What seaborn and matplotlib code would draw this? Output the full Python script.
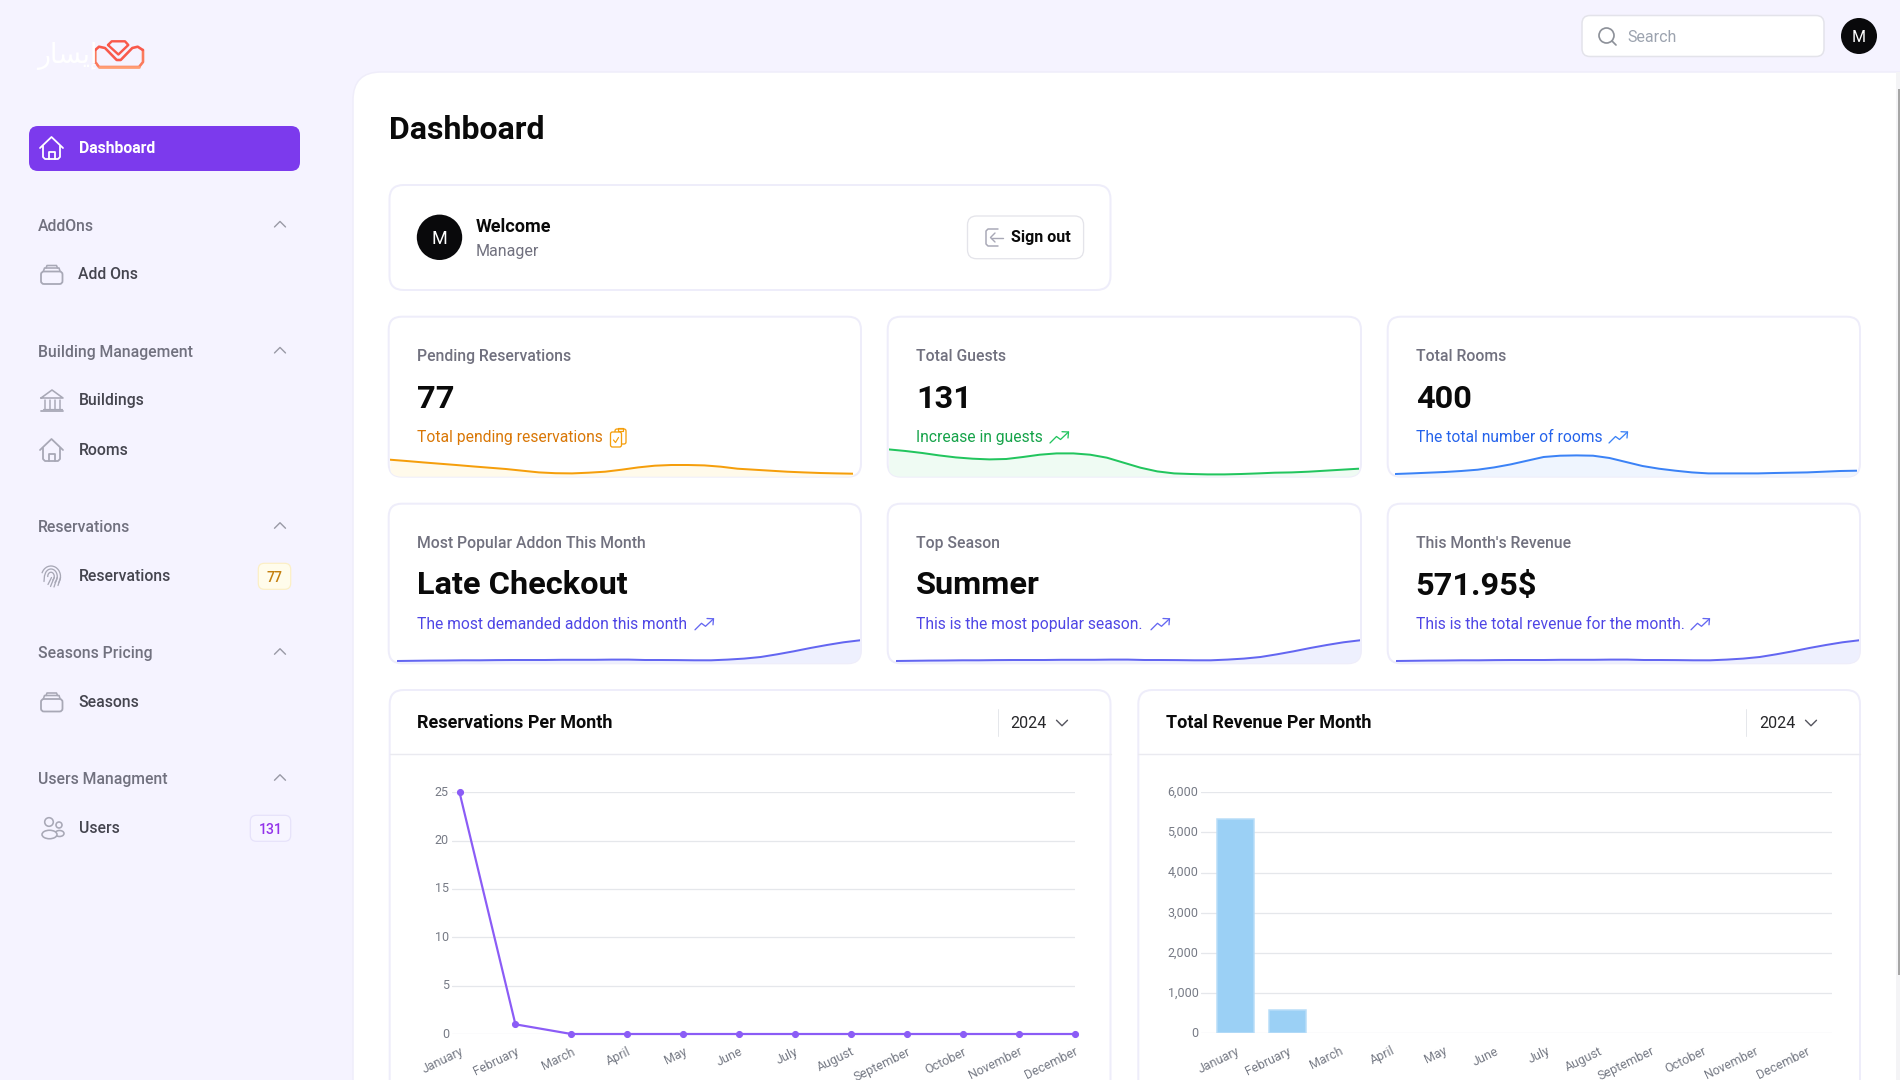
import numpy as np
import pandas as pd
import seaborn as sns
import matplotlib
matplotlib.use("Agg")
import matplotlib.pyplot as plt
from matplotlib.patches import FancyBboxPatch, Circle, Rectangle, Arc, Ellipse
from matplotlib.transforms import ScaledTranslation

# ---------- data ----------
months = ["January", "February", "March", "April", "May", "June", "July",
          "August", "September", "October", "November", "December"]
reservations = [25, 1, 0, 0, 0, 0, 0, 0, 0, 0, 0, 0]
revenue = [5330, 572, 0, 0, 0, 0, 0, 0, 0, 0, 0, 0]
res_ticks = [0, 5, 10, 15, 20, 25]
rev_ticks = [0, 1000, 2000, 3000, 4000, 5000, 6000]

spark_pending = [16, 14.7, 13.3, 12, 10.7, 9.3, 8, 6.7, 5, 3.3, 2.5, 2.3, 3, 4, 6, 8.3, 10, 10.7, 10.7,
                 10.3, 9, 7, 6, 5, 4, 3.3, 2.7, 2.3, 2]
spark_guests = [26.3, 24.7, 22.7, 20.3, 18.3, 17, 16.3, 16.7, 18.7, 21, 22.3, 22.3, 21, 18, 13, 8, 4.3,
                2.3, 1.7, 1.3, 1.3, 1.7, 2.3, 3, 3.3, 4, 5, 6, 7]
spark_rooms = [1.7, 2.3, 3, 3.7, 4.7, 6, 8.3, 11.3, 15, 18.7, 20, 20.3, 20, 17.7, 13.7, 9.7, 7, 5, 3.3,
               2.3, 2.3, 2.3, 2.3, 2.7, 3, 3.3, 4, 4.7, 5]
spark_indigo = [1.3, 1.5, 1.7, 1.8, 2, 2, 2.2, 2.3, 2.3, 2.3, 2.5, 2.5, 2.5, 2.7, 2.7, 2.3, 2.3, 2.2, 2,
                2, 2.7, 3.7, 5.3, 8, 11, 14.3, 17.3, 20, 22]

card_labels = ["Pending Reservations", "Total Guests", "Total Rooms",
               "Most Popular Addon This Month", "Top Season", "This Month's Revenue"]
card_values = ["77", "131", "400", "Late Checkout", "Summer", "571.95$"]
card_notes = ["Total pending reservations", "Increase in guests", "The total number of rooms",
              "The most demanded addon this month", "This is the most popular season.",
              "This is the total revenue for the month."]
nav_headers = ["AddOns", "Building Management", "Reservations", "Seasons Pricing", "Users Managment"]
nav_items = ["Add Ons", "Buildings", "Rooms", "Reservations", "Seasons", "Users"]

# ---------- theme ----------
sns.set_theme(style="white")
plt.rcParams["font.family"] = ["Roboto", "DejaVu Sans"]
W, H = 1900, 1080
PT = 0.72
BG = "#F5F3FF"
BORDER = "#EEEDFA"
GRID = "#E5E7EB"
TICK = "#767A85"

fig = plt.figure(figsize=(W / 100, H / 100), dpi=100, facecolor=BG)
bg = fig.add_axes([0, 0, 1, 1], zorder=0)
bg.set_xlim(0, W)
bg.set_ylim(H, 0)
bg.axis("off")


def rbox(x0, y0, x1, y1, r, fc="white", ec="none", lw=0, z=1, ax=bg):
    p = FancyBboxPatch((x0 + r, y0 + r), x1 - x0 - 2 * r, y1 - y0 - 2 * r,
                       boxstyle=f"round,pad={r},rounding_size={r}", fc=fc, ec=ec,
                       lw=lw * PT, zorder=z)
    ax.add_patch(p)
    return p


def txt(x, y, s, px=16, color="#111111", weight="normal", ha="left", z=5, **kw):
    return bg.text(x, y, s, fontsize=px * PT, color=color, fontweight=weight, ha=ha,
                   va="center_baseline", zorder=z, **kw)


def poly(pts, color, lw=1.6, z=5, closed=False):
    a = np.array(pts, dtype=float)
    if closed:
        a = np.vstack([a, a[0]])
    bg.plot(a[:, 0], a[:, 1], color=color, lw=lw * PT, zorder=z,
            solid_capstyle="round", solid_joinstyle="round")


ICON = "#A8A8B6"


def house(x, y, c):
    poly([(x, y + 11), (x + 11.5, y), (x + 23, y + 11)], c, 1.8)
    poly([(x + 3, y + 9), (x + 3, y + 20), (x + 5, y + 22), (x + 18, y + 22), (x + 20, y + 20), (x + 20, y + 9)], c, 1.8)
    poly([(x + 8.5, y + 22), (x + 8.5, y + 15), (x + 14.5, y + 15), (x + 14.5, y + 22)], c, 1.8)


def box(x, y):
    rbox(x, y + 6.5, x + 21.5, y + 19, 3, fc="none", ec=ICON, lw=1.8, z=5)
    poly([(x + 2.5, y + 6), (x + 3.5, y + 3), (x + 18, y + 3), (x + 19, y + 6)], ICON, 1.6)
    poly([(x + 5, y + 3), (x + 6, y + 0.5), (x + 15.5, y + 0.5), (x + 16.5, y + 3)], ICON, 1.6)


def bank(x, y):
    poly([(x, y + 8), (x + 11, y), (x + 22, y + 8)], ICON, 1.6, closed=True)
    for dx in (3.5, 8.5, 13.5, 18.5):
        poly([(x + dx, y + 10), (x + dx, y + 19)], ICON, 1.5)
    poly([(x, y + 21), (x + 22, y + 21)], ICON, 1.8)
    poly([(x + 1.5, y + 19), (x + 20.5, y + 19)], ICON, 1.2)


def fingerprint(cx, cy):
    for w, h, a0, a1 in ((19, 21, 200, 40), (12.5, 15, 190, 60), (6.5, 8.5, 170, 70)):
        bg.add_patch(Arc((cx, cy), w, h, theta1=a0, theta2=a1 + 360, color=ICON, lw=1.3 * PT, zorder=5))
    poly([(cx + 9.5, cy + 1), (cx + 7, cy + 9)], ICON, 1.3)
    poly([(cx + 6.2, cy + 1), (cx + 3, cy + 10.5)], ICON, 1.3)
    poly([(cx + 3.2, cy + 1), (cx - 0.5, cy + 10)], ICON, 1.3)
    poly([(cx + 0.5, cy + 1), (cx - 3, cy + 8)], ICON, 1.3)
    poly([(cx - 6.5, cy - 1), (cx - 7, cy + 5)], ICON, 1.3)


def users(x, y):
    bg.add_patch(Circle((x + 8, y + 5), 4.3, fc="none", ec=ICON, lw=1.6 * PT, zorder=5))
    bg.add_patch(Circle((x + 18, y + 8), 3, fc="none", ec=ICON, lw=1.6 * PT, zorder=5))
    bg.add_patch(Ellipse((x + 8.5, y + 17.5), 15, 8.5, fc=BG, ec=ICON, lw=1.6 * PT, zorder=5))
    bg.add_patch(Ellipse((x + 18.5, y + 16.5), 9, 6, fc="none", ec=ICON, lw=1.6 * PT, zorder=4))


def chevron(cx, cy, up=True, c="#9A9AA6", s=5.5):
    d = -s / 2 if up else s / 2
    poly([(cx - s, cy - d), (cx, cy + d), (cx + s, cy - d)], c, 1.4)


def trend(x, cy, c):
    y = cy - 6
    poly([(x, y + 12), (x + 6.5, y + 5.5), (x + 10.5, y + 8.5), (x + 18.5, y + 1)], c, 1.3)
    poly([(x + 12, y + 0.7), (x + 18.5, y + 1), (x + 18, y + 7)], c, 1.3)


# ---------- page ----------
rbox(353, 72, 1960, 1200, 28, fc="white", ec="#EFEDFA", lw=1.5, z=1)
bg.add_patch(Rectangle((1896, 72), 4, 1008, fc="#F4F4F6", ec="none", zorder=2))
bg.add_patch(Rectangle((1897.5, 89), 2.5, 886, fc="#A6A6A6", ec="none", zorder=3))

# top bar
rbox(1582, 15.5, 1824, 56.5, 8, fc="white", ec="#E3E3EA", lw=1.5, z=2)
bg.add_patch(Circle((1606.5, 35.5), 7.5, fc="none", ec="#8D9199", lw=1.7 * PT, zorder=5))
poly([(1612, 41), (1616, 45)], "#8D9199", 1.7)
txt(1627.5, 36, "Search", 16, "#9CA3AF")
bg.add_patch(Circle((1859, 36), 18, fc="#09090B", ec="none", zorder=3))
txt(1859, 36, "M", 16, "white", ha="center")

# logo
LOGO_T, LOGO_M, LOGO_B = "#F9594B", "#FB7A5C", "#FF9E73"
poly([(95.3, 50), (95.3, 62), (99, 67), (139, 67), (143, 62), (143, 50)], LOGO_M, 2.6)
poly([(99, 67), (139, 67)], LOGO_B, 2.6)
poly([(95.3, 50), (99, 46.7), (105, 48), (116.7, 60), (120.7, 60), (132.3, 48), (137.7, 46.7), (142.8, 50)], LOGO_T, 2.6)
poly([(108, 45), (111.7, 41.3), (125, 41.3), (128.3, 45), (118.4, 54.5)], LOGO_T, 2.4, closed=True)
bg.text(37, 56.5, "\uFEAD\uFE8E\uFEB4\uFEF3\uFE87", fontsize=27 * PT, color="white",
        family=["DejaVu Sans"], ha="left", va="center", zorder=5)

# ---------- sidebar ----------
rbox(29, 126, 300, 171, 9, fc="#7C3AED", z=2)
house(40, 137, "white")
txt(78.5, 146.7, "Dashboard", 15.8, "white", "bold")
for s, y in zip(nav_headers, [225, 351, 526.3, 652.3, 778.3]):
    txt(38.3, y, s, 15.75, "#71717F", "medium")
    chevron(280, y - 0.8)
for s, y in zip(nav_items, [273, 399.3, 449.3, 575.3, 701.3, 827.3]):
    txt(78.5, y, s, 15.75, "#45454F", "medium")
box(41, 265)
bank(41, 390)
house(40, 439, ICON)
fingerprint(51, 576.5)
box(41, 692.5)
users(41, 817)
rbox(258.3, 563.3, 290.7, 589.3, 6, fc="#FFFCEB", ec="#FCEFC4", lw=1.2, z=2)
txt(274.5, 576.5, "77", 14, "#C47F0E", "medium", ha="center")
rbox(250.3, 815.3, 290.7, 841.3, 6, fc="#F7F5FF", ec="#E6E2FA", lw=1.2, z=2)
txt(270.5, 828.5, "131", 14, "#9333EA", "medium", ha="center")

# ---------- main ----------
txt(389, 126.7, "Dashboard", 32, "#0A0A0A", "bold")
rbox(389.5, 185, 1110.5, 290, 14, fc="white", ec=BORDER, lw=2, z=2)
bg.add_patch(Circle((439.5, 237.3), 22.7, fc="#09090B", ec="none", zorder=3))
txt(439.5, 237.5, "M", 18, "white", ha="center")
txt(475.5, 225, "Welcome", 18, "#0A0A0A", "bold")
txt(475.5, 250, "Manager", 16, "#71717F")
rbox(967.5, 216, 1083.6, 258.7, 9, fc="white", ec="#E4E4EA", lw=1.3, z=3)
poly([(998, 229), (988, 229), (986, 231), (986, 244), (988, 246), (998, 246)], ICON, 1.5)
poly([(1003, 237.5), (991, 237.5)], ICON, 1.4)
poly([(995, 233), (990.5, 237.5), (995, 242)], ICON, 1.4)
txt(1011, 236, "Sign out", 16, "#0A0A0A", "bold")

card_x = [(388.7, 861), (887.7, 1361), (1387.7, 1860)]
card_y = [(316.7, 476.7), (503.7, 663.3)]
text_x = [417, 916.3, 1415.7]
row_text = [(354.8, 395.7, 435.8), (541.8, 582.5, 622.6)]
palette = [("#F59E0B", "#D97706", "#FFFAEB"), ("#22C55E", "#16A34A", "#EFFBF3"), ("#3B82F6", "#2563EB", "#EFF5FE"),
           ("#6366F1", "#4F46E5", "#EEF0FE"), ("#6366F1", "#4F46E5", "#EEF0FE"), ("#6366F1", "#4F46E5", "#EEF0FE")]
sparks = [spark_pending, spark_guests, spark_rooms, spark_indigo, spark_indigo, spark_indigo]
spark_inset = [(1.3, 7.7), (1, 2.3), (7.6, 3.3), (8, 1), (8, 1), (8, 1)]
icon_x = [None, 1050, 1609, 695, 1151, 1691]

for i in range(6):
    c, r = i % 3, i // 3
    x0, x1 = card_x[c]
    y0, y1 = card_y[r]
    rbox(x0, y0, x1, y1, 13, fc="white", ec=BORDER, lw=2, z=2)
    tx = text_x[c]
    ly, vy, ny = row_text[r]
    line_c, note_c, fill_c = palette[i]
    txt(tx, ly, card_labels[i], 15.8, "#71717F", "medium")
    txt(tx, vy, card_values[i], 32.5, "#0A0A0A", "bold")
    txt(tx, ny, card_notes[i], 15.65, note_c)
    if icon_x[i]:
        trend(icon_x[i], ny + 1.2, line_c)
    # sparkline
    l, rr = spark_inset[i]
    sx0, sx1 = x0 + l, x1 - rr
    sy1 = y1 - 1
    hh = 32
    ax = fig.add_axes([sx0 / W, 1 - sy1 / H, (sx1 - sx0) / W, hh / H], zorder=3)
    ax.patch.set_alpha(0)
    idx = np.arange(len(sparks[i]))
    vals = np.array(sparks[i])
    area = ax.fill_between(idx, vals, 0, color=fill_c, lw=0, zorder=1)
    sns.lineplot(x=idx, y=vals, ax=ax, color=line_c, lw=2 * PT, zorder=2)
    ax.set_xlim(0, len(vals) - 1)
    ax.set_ylim(0, hh)
    ax.axis("off")
    clip = FancyBboxPatch((x0 + 13, y0 + 13), x1 - x0 - 26, y1 - y0 - 26,
                          boxstyle="round,pad=13,rounding_size=13", transform=bg.transData,
                          fc="none", ec="none")
    area.set_clip_path(clip)
    for ln in ax.lines:
        ln.set_clip_path(clip)

# clipboard icon
OR = "#F59E0B"
rbox(615, 429, 626, 444, 2, fc="none", ec=OR, lw=1.3, z=5)
rbox(610.5, 432, 621.5, 447, 2, fc="white", ec=OR, lw=1.3, z=6)
poly([(613.5, 440), (615.5, 442.5), (618.5, 437.5)], OR, 1.2, z=7)
poly([(618, 427.5), (623, 427.5), (623, 430.5), (618, 430.5)], OR, 1.2, z=7, closed=True)

# chart cards
for (x0, x1, title, tx, sep, yr, chev) in [
    (389.7, 1110.5, "Reservations Per Month", 417.3, 997.5, 1010.7, 1062),
    (1138.3, 1860, "Total Revenue Per Month", 1166.3, 1746.4, 1759.7, 1811),
]:
    rbox(x0, 690, x1, 1140, 14, fc="white", ec=BORDER, lw=2, z=2)
    bg.plot([x0, x1], [754.3, 754.3], color="#EAEAF0", lw=1.4 * PT, zorder=3)
    bg.plot([sep, sep], [709, 736], color="#E5E7EB", lw=1 * PT, zorder=3)
    txt(tx, 720.7, title, 18, "#0A0A0A", "bold")
    txt(yr, 722, "2024", 16, "#27272A")
    chevron(chev, 723, up=False, c="#55555F", s=5.5)


def chart_axes(x0, x1, top, bottom):
    ax = fig.add_axes([x0 / W, 1 - bottom / H, (x1 - x0) / W, (bottom - top) / H], zorder=4)
    ax.patch.set_alpha(0)
    return ax


def finish(ax, ticks, labels, xlim):
    ax.set_xlim(*xlim)
    ax.set_ylim(ticks[0], ticks[-1])
    ax.set_yticks(ticks, labels=labels)
    ax.set_xticks(range(12), labels=months)
    ax.yaxis.grid(True, color=GRID, lw=1.3 * PT)
    ax.xaxis.grid(False)
    ax.set_axisbelow(True)
    ax.set_xlabel("")
    ax.set_ylabel("")
    sns.despine(ax=ax, left=True, bottom=True, top=True, right=True)
    ax.tick_params(axis="y", length=0, pad=2, labelsize=12.5 * PT, labelcolor=TICK)
    ax.tick_params(axis="x", length=0, pad=8, labelsize=12.5 * PT, labelcolor=TICK)
    up = ScaledTranslation(0, 1.5 / 100, fig.dpi_scale_trans)
    for t in ax.get_yticklabels():
        t.set_transform(t.get_transform() + up)
    for t in ax.get_xticklabels():
        t.set_rotation(26)
        t.set_ha("right")
        t.set_rotation_mode("anchor")


# line chart
ax1 = chart_axes(451.7, 1074.6, 792.3, 1034)
df1 = pd.DataFrame({"month": months, "reservations": reservations})
sns.lineplot(data=df1, x="month", y="reservations", ax=ax1, color="#8B5CF6", lw=2.2 * PT,
             marker="o", markersize=5.5 * PT * 1.1, markeredgecolor="#8B5CF6", clip_on=False, sort=False)
finish(ax1, res_ticks, [str(v) for v in res_ticks], (-7.8 / 55.9, 11))

# bar chart
ax2 = chart_axes(1201.2, 1832.4, 792.3, 1033.3)
df2 = pd.DataFrame({"month": months, "revenue": revenue})
sns.barplot(data=df2, x="month", y="revenue", ax=ax2, color="#9BD0F5", saturation=1,
            width=0.72, edgecolor="#B8DDF8", linewidth=1.5 * PT)
for bar in ax2.patches:
    if bar.get_height() == 0:
        bar.set_visible(False)
finish(ax2, rev_ticks, [f"{v:,}" for v in rev_ticks], (-0.663, 11.5))

fig.savefig("out.png", dpi=100, facecolor=BG)
